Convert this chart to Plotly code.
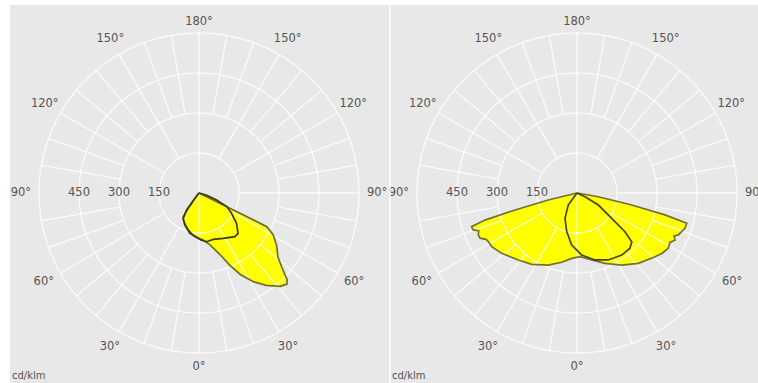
import plotly.graph_objects as go

# ---------------- data (cd/klm vs. angle from nadir, + = right, - = left) ----------------
left_c0_theta = [-40, -37, -35, -33.5, -30, -23, -16, -8, 0, 5, 12, 19, 23, 27, 31.5, 36, 41, 44,
                 45.5, 48, 51, 56, 60.5, 63.6, 64.5]
left_c0_r = [0, 25, 70, 107, 117, 130, 144, 159, 170, 177, 199, 245, 294, 344, 390, 428, 464, 475,
             463, 419, 381, 351, 320, 284, 0]

left_c90_theta = [-40, -37, -36, -32, -24, -13, -5, 3, 9, 17, 28, 39.5, 44, 51, 58, 64, 68, 74, 80]
left_c90_r = [0, 25, 79, 112, 131, 155, 165, 177, 185, 182, 193, 212, 211, 181, 144, 116, 71, 30, 0]

right_c0_theta = [-80, -76.3, -74.7, -73.6, -72.3, -70.4, -69, -67, -65, -63, -61.2, -57.8, -51.3,
                  -41.2, -32.4, -21.7, -12.5, -4.6, 2.7, 12.4, 21.7, 31.8, 41.1, 50.8, 55, 58.8,
                  62, 64.4, 66, 67.5, 71.9, 74.6, 76, 77.6, 80, 82]
right_c0_r = [0, 111, 241, 360, 415, 413, 395, 402, 401, 383, 379, 378, 362,
              334, 317, 291, 266, 246, 239, 257, 284, 318, 350, 378, 392, 400,
              395, 408, 398, 411, 426, 427, 340, 210, 81, 0]

right_c90_theta = [-45, -35.9, -25.4, -14.9, -5.8, 4.3, 15, 25, 35.8, 43.8, 48.3, 51.1, 53.9,
                   60.6, 65.2, 70]
right_c90_r = [0, 56, 105, 150, 196, 233, 260, 277, 287, 287, 275, 231, 161, 92, 33, 0]

ring_values = [150, 300, 450, 600]
radial_tick_values = [150, 300, 450]
radial_tick_labels = ["150", "300", "450"]
angle_tick_values = [180, 150, -150, 120, -120, 90, -90, 60, -60, 30, -30, 0]
angle_tick_labels = ["180°", "150°", "150°", "120°", "120°", "90°", "90°",
                     "60°", "60°", "30°", "30°", "0°"]
unit_label = "cd/klm"

# ---------------- layout constants ----------------
W, H = 758, 383
CENTERS_X = [199, 577]
CENTER_Y = 193
R_PX = 180
R_MAX = 675
LABEL_RADII = [642, 665, 665, 668, 668, 668, 668, 672, 672, 668, 668, 652]
BG = "#e8e8e8"
YELLOW = "#ffff00"
TXT = "#555555"
FONT = "DejaVu Sans"

panels = [
    (left_c0_theta, left_c0_r, left_c90_theta, left_c90_r, "#6e6e2c", "#3a3a18"),
    (right_c0_theta, right_c0_r, right_c90_theta, right_c90_r, "#707034", "#45451c"),
]

fig = go.Figure()


def grid_traces(sub):
    traces = []
    th_all, r_all = [], []
    circ = list(range(0, 361, 2))
    for rv in ring_values:
        th_all += circ + [None]
        r_all += [rv] * len(circ) + [None]
    traces.append(go.Scatterpolar(theta=th_all, r=r_all, mode="lines", subplot=sub,
                                  line=dict(color="rgba(255,255,255,0.8)", width=1.3),
                                  hoverinfo="skip", showlegend=False, connectgaps=False))
    th_s, r_s = [], []
    for a in range(-170, 181, 10):
        if a == -90:
            continue
        if a in (0, 180):
            r0 = 0
        elif a % 30 == 0:
            r0 = ring_values[0]
        else:
            r0 = ring_values[1]
        th_s += [a, a, None]
        r_s += [r0, ring_values[-1], None]
    traces.append(go.Scatterpolar(theta=th_s, r=r_s, mode="lines", subplot=sub,
                                  line=dict(color="rgba(255,255,255,0.8)", width=1.3),
                                  hoverinfo="skip", showlegend=False, connectgaps=False))
    return traces


for i, (t0, r0, t90, r90, c_out, c_in) in enumerate(panels):
    sub = "polar" if i == 0 else "polar2"
    for th, rr in ((t0, r0), (t90, r90)):
        fig.add_trace(go.Scatterpolar(theta=th, r=rr, mode="lines", fill="toself",
                                      fillcolor=YELLOW, line=dict(width=0, color=YELLOW),
                                      subplot=sub, hoverinfo="skip", showlegend=False))
    for tr in grid_traces(sub):
        fig.add_trace(tr)
    fig.add_trace(go.Scatterpolar(theta=t0 + [t0[0]], r=r0 + [r0[0]], mode="lines",
                                  line=dict(color=c_out, width=1.7), subplot=sub,
                                  hoverinfo="skip", showlegend=False))
    fig.add_trace(go.Scatterpolar(theta=t90 + [t90[0]], r=r90 + [r90[0]], mode="lines",
                                  line=dict(color=c_in, width=1.7), subplot=sub,
                                  hoverinfo="skip", showlegend=False))
    fig.add_trace(go.Scatterpolar(theta=angle_tick_values, r=LABEL_RADII,
                                  mode="text", text=angle_tick_labels, textposition="middle center",
                                  textfont=dict(family=FONT, size=11.5, color=TXT), cliponaxis=False,
                                  subplot=sub, hoverinfo="skip", showlegend=False))
    fig.add_trace(go.Scatterpolar(theta=[-90] * len(radial_tick_values), r=radial_tick_values,
                                  mode="text", text=radial_tick_labels, textposition="middle center",
                                  textfont=dict(family=FONT, size=11.5, color=TXT), cliponaxis=False,
                                  subplot=sub, hoverinfo="skip", showlegend=False))


def polar_layout(cx):
    return dict(
        domain=dict(x=[(cx - R_PX) / W, (cx + R_PX) / W],
                    y=[(H - (CENTER_Y + R_PX)) / H, (H - (CENTER_Y - R_PX)) / H]),
        bgcolor="rgba(0,0,0,0)",
        radialaxis=dict(range=[0, R_MAX], visible=False, showgrid=False),
        angularaxis=dict(rotation=270, direction="counterclockwise", showgrid=False,
                         showline=False, showticklabels=False, ticks=""),
    )


fig.update_layout(
    width=W, height=H,
    margin=dict(l=0, r=0, t=0, b=0, pad=0),
    paper_bgcolor=BG,
    showlegend=False,
    polar=polar_layout(CENTERS_X[0]),
    polar2=polar_layout(CENTERS_X[1]),
    shapes=[
        dict(type="rect", xref="paper", yref="paper", x0=0, x1=10 / W, y0=0, y1=1,
             fillcolor="white", line=dict(width=0), layer="above"),
        dict(type="rect", xref="paper", yref="paper", x0=0, x1=1, y0=1 - 5 / H, y1=1,
             fillcolor="white", line=dict(width=0), layer="above"),
        dict(type="line", xref="paper", yref="paper", x0=390 / W, x1=390 / W, y0=0, y1=1,
             line=dict(color="rgba(255,255,255,0.9)", width=1.5), layer="above"),
    ],
    annotations=[
        dict(text=unit_label, xref="paper", yref="paper", x=10 / W, y=0, xanchor="left",
             yanchor="bottom", showarrow=False, font=dict(family=FONT, size=10, color=TXT)),
        dict(text=unit_label, xref="paper", yref="paper", x=390 / W, y=0, xanchor="left",
             yanchor="bottom", showarrow=False, font=dict(family=FONT, size=10, color=TXT)),
    ],
)

fig.write_html("out.html",
               config={"displayModeBar": False, "staticPlot": True},
               post_script="document.body.style.margin='0px';document.body.style.overflow='hidden';")
